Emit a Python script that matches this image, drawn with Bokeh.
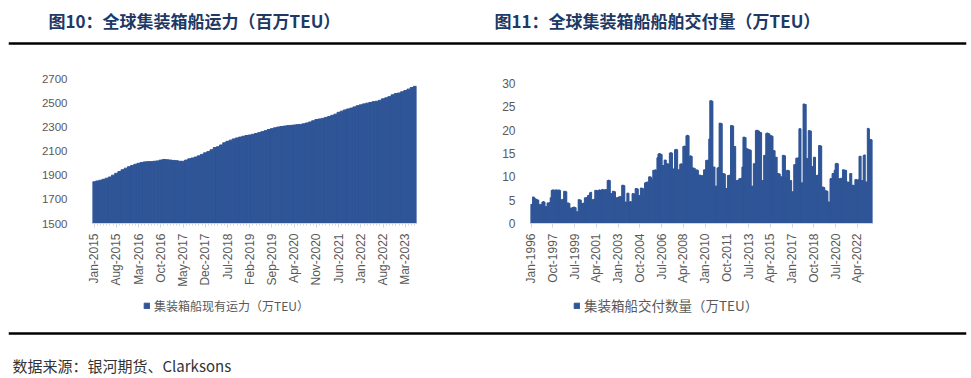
import math
from bokeh.plotting import figure
from bokeh.models import Range1d, FixedTicker, Label, Span, Legend, LegendItem, ColumnDataSource
from bokeh.layouts import column, row
from bokeh.embed import file_html
from bokeh.resources import INLINE

# ---------------- data ----------------
title_left = "图10：全球集装箱船运力（百万TEU）"
title_right = "图11：全球集装箱船船舶交付量（万TEU）"
source_text = "数据来源：银河期货、Clarksons"

fleet_name = "集装箱船现有运力（万TEU）"
fleet_tick_labels = ["Jan-2015", "Aug-2015", "Mar-2016", "Oct-2016", "May-2017", "Dec-2017",
                     "Jul-2018", "Feb-2019", "Sep-2019", "Apr-2020", "Nov-2020", "Jun-2021",
                     "Jan-2022", "Aug-2022", "Mar-2023"]
fleet_tick_step = 7
fleet_yticks = [1500, 1700, 1900, 2100, 2300, 2500, 2700]
# monthly, Jan-2015 .. Jun-2023
fleet_values = [1845, 1852, 1858, 1866, 1875, 1885, 1900, 1915, 1930, 1945, 1958, 1970,
                1980, 1990, 1998, 2005, 2010, 2012, 2012, 2015, 2018, 2025, 2030, 2028,
                2025, 2022, 2020, 2015, 2015, 2025, 2035, 2042, 2050, 2060, 2072, 2085,
                2095, 2110, 2128, 2135, 2150, 2168, 2180, 2190, 2200, 2208, 2215, 2222,
                2228, 2232, 2238, 2245, 2252, 2260, 2268, 2278, 2285, 2292, 2298, 2303,
                2306, 2310, 2312, 2315, 2318, 2320, 2325, 2332, 2340, 2350, 2360, 2365,
                2370, 2378, 2385, 2395, 2405, 2420, 2430, 2440, 2448, 2455, 2465, 2475,
                2482, 2490, 2496, 2502, 2508, 2512, 2520, 2532, 2540, 2550, 2565, 2575,
                2580, 2590, 2600, 2612, 2625, 2635]

deliv_name = "集装箱船交付数量（万TEU）"
deliv_tick_labels = ["Jan-1996", "Oct-1997", "Jul-1999", "Apr-2001", "Jan-2003", "Oct-2004",
                     "Jul-2006", "Apr-2008", "Jan-2010", "Oct-2011", "Jul-2013", "Apr-2015",
                     "Jan-2017", "Oct-2018", "Jul-2020", "Apr-2022"]
deliv_tick_step = 21
deliv_yticks = [0, 5, 10, 15, 20, 25, 30]
# monthly, Jan-1996 .. Jun-2023
deliv_values = [
    4.1, 4.1, 5.7, 5.6, 5.3, 5.2, 5.1, 5.0, 4.0, 4.1, 4.0, 4.6, 4.7, 4.6, 3.6, 3.6,
    4.4, 4.4, 4.5, 5.5, 7.1, 7.2, 7.2, 7.0, 7.2, 7.2, 7.1, 7.2, 7.1, 5.1, 5.1, 5.2,
    6.9, 6.9, 6.8, 4.4, 4.4, 4.3, 3.3, 3.3, 3.4, 3.5, 3.5, 3.4, 2.5, 2.5, 5.1, 5.1,
    5.0, 4.3, 4.3, 4.4, 5.5, 5.5, 5.6, 6.0, 6.1, 6.6, 6.7, 5.1, 5.1, 5.2, 7.1, 7.1,
    7.0, 7.1, 7.2, 7.1, 7.2, 7.3, 7.2, 7.2, 7.3, 7.2, 9.2, 9.3, 9.2, 6.4, 6.4, 6.9,
    6.9, 6.8, 5.5, 5.5, 5.6, 5.7, 5.8, 5.7, 8.2, 8.2, 8.1, 4.6, 4.6, 6.5, 6.5, 4.6,
    4.7, 4.6, 6.4, 6.4, 6.3, 7.5, 7.5, 7.4, 6.0, 6.0, 7.6, 7.6, 7.5, 5.8, 8.7, 8.8,
    8.9, 8.9, 10.0, 10.0, 9.9, 9.4, 11.4, 11.4, 11.5, 11.4, 14.1, 14.9, 15.0, 14.9,
    14.8, 12.4, 12.4, 13.6, 13.6, 12.8, 12.8, 12.7, 15.1, 15.2, 15.1, 11.7, 11.7,
    15.8, 15.9, 15.8, 11.5, 11.5, 12.7, 12.8, 12.7, 16.5, 16.6, 16.5, 18.8, 18.9,
    18.8, 14.4, 14.5, 14.4, 11.9, 11.9, 11.8, 11.4, 11.5, 11.4, 10.3, 10.4, 10.3,
    10.2, 10.3, 11.5, 11.5, 13.5, 13.6, 13.5, 18.1, 26.3, 26.3, 26.2, 12.1, 12.1,
    8.0, 8.0, 11.9, 12.0, 21.5, 21.5, 21.4, 10.7, 10.7, 10.6, 7.5, 7.5, 10.3, 10.3,
    10.4, 21.0, 21.0, 20.9, 16.5, 16.5, 9.2, 9.2, 9.3, 9.6, 9.6, 9.7, 12.1, 18.5,
    18.5, 18.4, 16.0, 16.0, 15.8, 15.8, 15.7, 8.0, 8.0, 12.8, 12.8, 19.9, 20.0, 19.9,
    19.8, 19.5, 19.5, 9.2, 9.2, 14.6, 14.6, 19.3, 19.4, 19.3, 19.2, 18.8, 18.8, 18.7,
    15.6, 15.6, 14.2, 14.2, 10.7, 10.7, 10.6, 10.0, 10.0, 14.6, 14.6, 14.5, 9.6,
    11.4, 11.4, 11.3, 9.2, 9.2, 6.8, 6.8, 12.6, 12.6, 14.0, 14.0, 14.1, 20.3, 20.3,
    8.7, 8.7, 25.6, 25.6, 25.5, 13.9, 13.9, 19.9, 19.9, 19.8, 12.2, 12.2, 14.2, 14.2,
    10.3, 10.3, 10.4, 16.7, 16.7, 16.6, 7.8, 7.8, 7.7, 7.0, 7.0, 6.9, 4.6, 4.6, 9.6,
    9.6, 10.7, 10.7, 11.4, 12.8, 12.9, 12.8, 9.6, 9.6, 9.7, 9.6, 11.5, 11.5, 11.4,
    11.4, 8.9, 8.9, 8.8, 10.7, 10.7, 8.2, 8.2, 8.1, 9.4, 9.4, 9.3, 9.4, 14.4, 14.4,
    9.2, 9.2, 14.6, 14.7, 8.9, 8.9, 20.4, 20.3, 18.0, 18.0, 17.9]

# ---------------- styles ----------------
BAR = "#2F5597"
AX_TXT = "#595959"
TITLE_C = "#203864"
CJK = "Noto Sans CJK SC"
NUM = "Liberation Sans"


def bare(w, h, xr, yr, bl=0, br=0):
    p = figure(width=w, height=h, x_range=Range1d(*xr), y_range=Range1d(*yr),
               x_axis_location=None, y_axis_location=None,
               min_border_left=bl, min_border_right=br, min_border_top=0, min_border_bottom=0,
               output_backend="svg", toolbar_location=None)
    p.outline_line_color = None
    p.grid.visible = False
    p.background_fill_color = "white"
    p.border_fill_color = "white"
    return p


# ---------------- header (page y 0..50) ----------------
hdr = bare(971, 50, (8, 966), (0, 50), 8, 5)
for tx, t in ((48, title_left), (494, title_right)):
    hdr.add_layout(Label(x=tx, y=30, text=t, text_font=CJK, text_font_style="bold",
                         text_font_size="17px", text_color=TITLE_C, text_baseline="middle"))
hdr.add_layout(Span(location=7, dimension="width", line_color="black", line_width=2.5))


def chart(w, values, ymin, ymax, yticks, tick_labels, step, name,
          bl, br, bt, bb, ystand, ylab_size, leg_loc, leg_size, minor):
    n = len(values)
    src = ColumnDataSource(dict(x=list(range(n)), top=values))

    p = figure(width=w, height=240, x_range=Range1d(-0.5, n - 0.5),
               y_range=Range1d(ymin, ymax),
               min_border_left=bl, min_border_right=br, min_border_top=bt, min_border_bottom=bb,
               output_backend="svg", toolbar_location=None)
    p.outline_line_color = None
    p.grid.visible = False
    p.background_fill_color = "white"
    p.border_fill_color = "white"
    p.vbar(x="x", top="top", bottom=ymin, width=1.0, source=src,
           fill_color=BAR, line_color=BAR, line_width=1.0)
    tick_idx = list(range(0, step * len(tick_labels), step))
    p.xaxis.ticker = FixedTicker(ticks=tick_idx, minor_ticks=list(range(n)) if minor else [])
    p.xaxis.major_label_overrides = {i: lab for i, lab in zip(tick_idx, tick_labels)}
    p.xaxis.major_label_orientation = math.pi / 2
    p.xaxis.axis_line_color = "#D0D5DE"
    p.xaxis.major_tick_line_color = "#D0D5DE"
    p.xaxis.major_tick_out = 4
    p.xaxis.major_tick_in = 0
    p.xaxis.minor_tick_line_color = "#D0D5DE"
    p.xaxis.minor_tick_out = 2
    p.xaxis.minor_tick_in = 0
    p.xaxis.major_label_standoff = 6
    p.xaxis.major_label_text_font = NUM
    p.xaxis.major_label_text_font_size = "12px"
    p.xaxis.major_label_text_color = AX_TXT

    p.yaxis.ticker = FixedTicker(ticks=yticks)
    p.yaxis.axis_line_color = None
    p.yaxis.major_tick_line_color = None
    p.yaxis.major_tick_out = 0
    p.yaxis.major_tick_in = 0
    p.yaxis.minor_tick_line_color = None
    p.yaxis.major_label_standoff = ystand
    p.yaxis.major_label_text_font = NUM
    p.yaxis.major_label_text_font_size = ylab_size
    p.yaxis.major_label_text_color = AX_TXT

    # legend strip below the chart (same series, same source); its frame is
    # aligned by the column layout with the chart frame above it
    lg = bare(w, 35, (0, w), (0, 35))
    r = lg.vbar(x="x", top="top", bottom=ymin, width=1.0, source=src,
                fill_color=BAR, line_color=BAR, visible=False)
    leg = Legend(items=[LegendItem(label=name, renderers=[r])], location=leg_loc,
                 orientation="horizontal", padding=0, margin=0, spacing=0,
                 glyph_width=7, glyph_height=7, label_height=14, label_standoff=4,
                 label_text_font=CJK, label_text_font_size=leg_size,
                 label_text_color=AX_TXT, border_line_color=None,
                 background_fill_alpha=0, inactive_fill_alpha=0)
    lg.add_layout(leg)
    return column(p, lg, spacing=0)


# middle: page y 50..325
left = chart(488, fleet_values, 1500, 2700, fleet_yticks, fleet_tick_labels, fleet_tick_step,
             fleet_name, 92, 72, 28, 67, 25, "11.5px", (51, 11), "12px", True)
right = chart(483, deliv_values, 0, 30, deliv_yticks, deliv_tick_labels, deliv_tick_step,
              deliv_name, 42, 99, 33, 67, 15, "12px", (43, 10), "13.5px", False)

# ---------------- footer (page y 325..378) ----------------
ftr = bare(971, 53, (8, 966), (0, 53), 8, 5)
ftr.add_layout(Span(location=45, dimension="width", line_color="black", line_width=2.5))
ftr.add_layout(Label(x=12, y=13, text=source_text, text_font=CJK, text_font_size="15px",
                     text_color="#333333", text_baseline="middle"))

page = column(hdr, row(left, right, spacing=0), ftr, spacing=0)
open("out.html", "w").write(file_html(page, INLINE))
